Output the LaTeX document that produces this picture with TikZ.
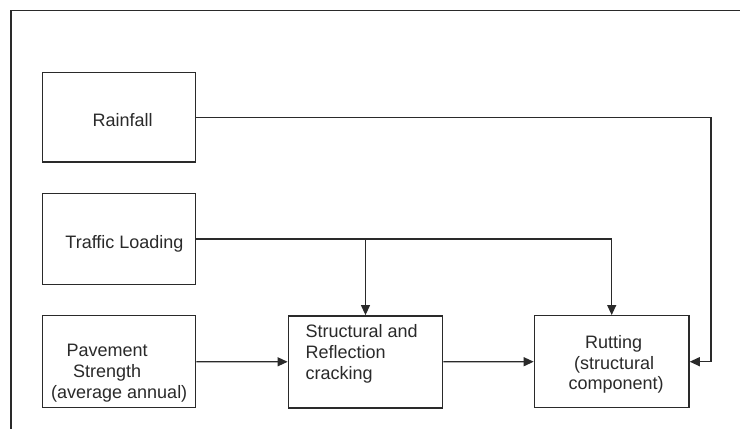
\documentclass[tikz,border=0pt]{standalone}
\usepackage{fontspec}
\setmainfont{Liberation Sans}
\usetikzlibrary{arrows.meta}
\definecolor{ink}{HTML}{2A2A2A}
\begin{document}
\begin{tikzpicture}[x=1pt,y=-1pt,
  box/.style={draw=ink,line width=1.4pt,inner sep=0pt,minimum width=153pt,minimum height=91pt},
  txt/.style={inner sep=0pt,text=ink,font=\fontsize{18}{21}\selectfont},
  link/.style={draw=ink,line width=1.2pt,-{Triangle[length=10pt,width=9pt]}},
  wire/.style={draw=ink,line width=1.2pt}]
  % canvas
  \fill[white] (0,0) rectangle (740,429);
  \useasboundingbox (0,0) rectangle (740,429);
  % surrounding frame (open to the right and below)
  \draw[ink,line width=1.2pt] (740,10.5) -- (11,10.5) -- (11,429);

  % boxes
  \node[box,minimum height=89.7pt] (rain) at (119.2,117.2) {};
  \node[box] (traf) at (119.2,239) {};
  \node[box,minimum height=92pt] (pave) at (119.2,361.7) {};
  \node[box,minimum width=154.4pt,minimum height=92pt] (strc) at (365.5,361.8) {};
  \node[box,minimum width=154.7pt,minimum height=92pt] (rut) at (611.7,361.7) {};

  % labels
  \node[txt,anchor=base] (rainT) at (122.7,126.7) {Rainfall};
  \node[txt,anchor=base] (trafT) at (124.5,248.3) {Traffic Loading};

  \node[txt,anchor=base west] (paveA) at (66.5,356) {Pavement};
  \node[txt,anchor=base west] (paveB) at (73,377.3) {Strength};
  \node[txt,anchor=base west] (paveC) at (51,398.5) {(average annual)};

  \node[txt,anchor=base west] (strcA) at (305.5,337.3) {Structural and};
  \node[txt,anchor=base west] (strcB) at (305.5,358.3) {Reflection};
  \node[txt,anchor=base west] (strcC) at (305.5,379.5) {cracking};

  \node[txt,anchor=base] (rutA) at (613.7,348.3) {Rutting};
  \node[txt,anchor=base] (rutB) at (614.2,369.3) {(structural};
  \node[txt,anchor=base] (rutC) at (616.2,389.5) {component)};

  % connectors
  \coordinate (rbend) at (711,0);
  \draw[link] (rain.east) -- (rain.east -| rbend) |- (rut.east);
  \draw[link] (traf.east) -| (rut.north);
  \draw[link] (traf.east -| strc.north) -- (strc.north);
  \draw[link] (pave.east) -- (strc.west);
  \draw[link] (strc.east) -- (rut.west);
\end{tikzpicture}
\end{document}
